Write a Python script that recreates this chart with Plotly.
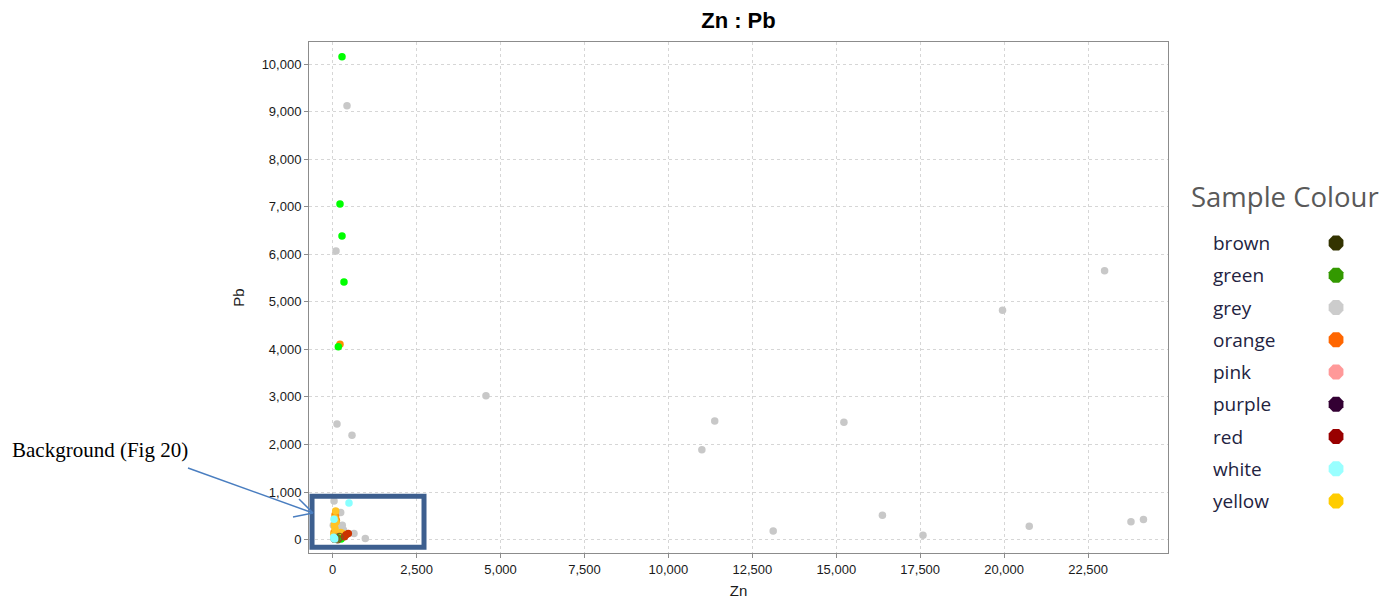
import plotly.graph_objects as go

# ---------------- data ----------------
grey_zn = [426, 98, 4566, 128, 575, 10997, 11380, 15228, 13122, 16375, 17584, 19953,
           20749, 22993, 23779, 24151, 40, 238, 286, 18, 320, 634, 971, 60, 150, 120, 200]
grey_pb = [9122, 6069, 3025, 2428, 2196, 1887, 2493, 2465, 183, 514, 92, 4824,
           282, 5655, 373, 423, 813, 568, 301, 301, 200, 126, 21, 150, 80, 250, 60]

orange_zn = [217, 86, 70, 40, 160, 110]
orange_pb = [4105, 476, 520, 150, 80, 400]

yellow_zn = [89, 68, 240, 300, 100, 50, 150, 30, 120, 200, 80, 60]
yellow_pb = [602, 231, 150, 126, 370, 300, 60, 100, 30, 40, 20, 450]

green_zn = [277, 217, 277, 336, 167, 250, 150]
green_pb = [10154, 7059, 6385, 5417, 4055, 10, 40]

red_zn = [465, 400, 350]
red_pb = [126, 100, 60]

brown_zn = [100, 150, 200, 60]
brown_pb = [30, 10, 50, 20]

white_zn = [485, 40, 40, 30, 60]
white_pb = [770, 427, 25, 50, 10]

legend_names = ["brown", "green", "grey", "orange", "pink", "purple", "red", "white", "yellow"]
legend_colors = ["#333300", "#339900", "#cccccc", "#ff6600", "#ff9999",
                 "#330033", "#990000", "#99ffff", "#ffcc00"]

x_ticks = [0, 2500, 5000, 7500, 10000, 12500, 15000, 17500, 20000, 22500]
y_ticks = [0, 1000, 2000, 3000, 4000, 5000, 6000, 7000, 8000, 9000, 10000]

# ---------------- figure ----------------
fig = go.Figure()

series = [
    (grey_zn, grey_pb, "#c8c8c8", "circle"),
    (orange_zn, orange_pb, "#ff8c00", "circle"),
    (yellow_zn, yellow_pb, "#ffc326", "circle"),
    (green_zn, green_pb, "#00ff00", "circle"),
    (red_zn, red_pb, "#cc3300", "circle"),
    (brown_zn, brown_pb, "#7a5c1e", "circle-open"),
    (white_zn, white_pb, "#88ffff", "circle"),
]
for zn, pb, col, sym in series:
    fig.add_trace(go.Scatter(
        x=zn, y=pb, mode="markers",
        marker=dict(color=col, size=7.5, symbol=sym,
                    line=dict(width=0 if sym == "circle" else 1.2, color=col)),
        showlegend=False, hoverinfo="x+y", xaxis="x", yaxis="y"))

# custom legend (markers at right)
idx = list(range(len(legend_names)))
fig.add_trace(go.Scatter(
    x=[1] * len(idx), y=idx, mode="markers",
    marker=dict(color=legend_colors, size=16, symbol="octagon", line=dict(width=0)),
    showlegend=False, hoverinfo="skip", xaxis="x2", yaxis="y2"))

annotations = []
for i, name in enumerate(legend_names):
    annotations.append(dict(
        x=0, y=i, xref="x2", yref="y2", text=name, showarrow=False,
        xanchor="left", yanchor="middle",
        font=dict(family="Open Sans", size=19, color="#23233f")))

annotations.append(dict(
    x=0.9113, y=0.6986, xref="paper", yref="paper", text="Sample Colour",
    showarrow=False, xanchor="center", yanchor="middle",
    font=dict(family="Open Sans", size=27.5, color="#595959")))

annotations.append(dict(
    x=-0.2792, y=0.2016, xref="paper", yref="paper", text="Background (Fig 20)",
    showarrow=False, xanchor="left", yanchor="middle",
    font=dict(family="Liberation Serif", size=21, color="#000000")))

W_PAPER = 1071.0
H_PAPER = 511.0
def px(p):
    return (p - 309) / W_PAPER
def py(p):
    return (553 - p) / H_PAPER

arrow_col = "#4a7ec0"
shapes = [
    # highlight box
    dict(type="rect", xref="x", yref="y", x0=-616, x1=2720, y0=-162, y1=912,
         line=dict(color="#3d5f8f", width=5), fillcolor="rgba(0,0,0,0)", layer="above"),
    # arrow
    dict(type="line", xref="paper", yref="paper", x0=px(188), y0=py(468), x1=px(313), y1=py(513),
         line=dict(color=arrow_col, width=1.5)),
    dict(type="line", xref="paper", yref="paper", x0=px(299), y0=py(499), x1=px(313), y1=py(513),
         line=dict(color=arrow_col, width=1.5)),
    dict(type="line", xref="paper", yref="paper", x0=px(293), y0=py(517), x1=px(313), y1=py(513),
         line=dict(color=arrow_col, width=1.5)),
]

axis_common = dict(
    showline=True, linecolor="#8c8c8c", linewidth=1, mirror=True,
    showgrid=True, gridcolor="#d6d6d6", griddash="3px,3px", gridwidth=1,
    zeroline=False, ticks="outside", ticklen=4, tickcolor="#8c8c8c",
    tickfont=dict(family="Liberation Sans", size=13, color="#1a1a1a"),
    tickformat=",d",
)

fig.update_layout(
    width=1389, height=605,
    margin=dict(l=309, r=9, t=42, b=52),
    paper_bgcolor="white", plot_bgcolor="white",
    title=dict(text="<b>Zn : Pb</b>", x=0.401, xref="paper", xanchor="center",
               y=1 - 20 / 605, yref="container", yanchor="middle",
               font=dict(family="Liberation Sans", size=22, color="#000000")),
    xaxis=dict(domain=[0, 859 / W_PAPER], range=[-706, 24882],
               tickvals=x_ticks,
               title=dict(text="Zn", standoff=9,
                          font=dict(family="Liberation Sans", size=15, color="#1a1a1a")),
               **axis_common),
    yaxis=dict(domain=[0, 1], range=[-282, 10463],
               tickvals=y_ticks,
               title=dict(text="Pb", standoff=13,
                          font=dict(family="Liberation Sans", size=15, color="#1a1a1a")),
               **axis_common),
    xaxis2=dict(domain=[0.82, 1.0], range=[-0.192, 1.352], visible=False, anchor="y2"),
    yaxis2=dict(domain=[0, 1], range=[9.612, -6.233], visible=False, anchor="x2"),
    annotations=annotations,
    shapes=shapes,
    showlegend=False,
)

fig.write_html("out.html")
